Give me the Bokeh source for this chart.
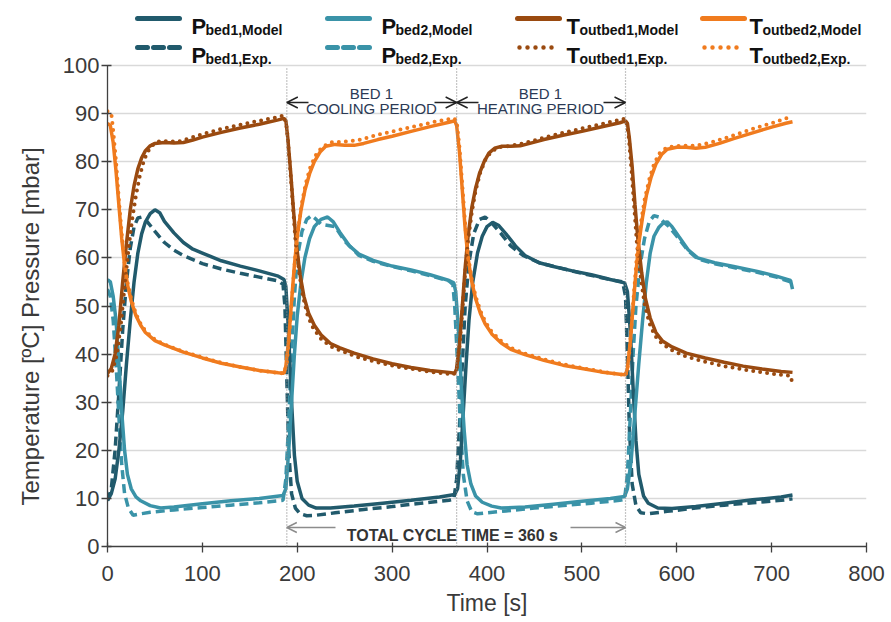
from bokeh.plotting import figure
from bokeh.models import Range1d, Label, Arrow, OpenHead, FixedTicker, Title
from bokeh.embed import file_html
from bokeh.resources import INLINE

# ---------------- data ----------------
pbed1_model_t = [0, 4, 8, 12, 16, 20, 24, 28, 32, 36, 40, 45, 50, 55, 60, 70, 80, 90, 100, 120, 140, 160, 180, 186,
                 188, 191, 194, 197, 200, 205, 212, 220, 235, 260, 290, 320, 350, 366,
                 369, 372, 375, 378, 381, 385, 390, 395, 400, 406, 412, 420, 430, 440, 455, 470, 490, 510, 530, 545,
                 548, 551, 554, 557, 560, 565, 570, 580, 595, 620, 650, 680, 710, 722]
pbed1_model_v = [9.6, 11, 14, 20, 28, 38, 47, 55, 61, 65, 67.5, 69.2, 70, 69.4, 67.6, 65.2, 63.2, 61.8, 61, 59.4, 58.3, 57.3, 56.2, 55.5,
                 54, 44, 30, 19, 13.5, 10, 8.6, 8, 8, 8.4, 9, 9.6, 10.3, 10.8,
                 12, 18, 28, 38, 47, 55, 61, 64.5, 66.5, 67.4, 66.8, 65, 62.5, 60.5, 59, 58.2, 57.3, 56.5, 55.5, 54.8,
                 53, 45, 33, 22, 15, 10.5, 9, 8, 7.9, 8.3, 9, 9.7, 10.3, 10.7]

pbed1_exp_t = [0, 4, 8, 12, 16, 20, 24, 28, 32, 36, 42, 50, 60, 70, 80, 100, 120, 140, 160, 180, 185,
               187, 189, 191, 194, 198, 203, 210, 220, 240, 270, 300, 330, 360, 365,
               368, 371, 374, 377, 381, 386, 392, 398, 404, 415, 425, 438, 455, 475, 500, 525, 543,
               546, 548, 550, 553, 557, 562, 570, 590, 620, 650, 680, 710, 722]
pbed1_exp_v = [9.5, 12, 20, 32, 45, 55, 62, 66.5, 68.3, 68.5, 67.5, 65.5, 63.2, 61.6, 60.5, 58.8, 57.7, 56.8, 56, 55.2, 54.5,
               50, 35, 20, 11, 8, 6.8, 6.4, 6.5, 7, 7.7, 8.3, 9, 9.6, 9.8,
               14, 25, 38, 50, 59, 65, 68, 68.5, 67.5, 65, 62.5, 60.5, 59, 58, 56.8, 55.7, 55,
               52, 40, 25, 13, 8.5, 7, 6.8, 7.3, 8, 8.6, 9.1, 9.6, 9.9]

pbed2_model_t = [0, 3, 6, 9, 12, 15, 18, 21, 25, 30, 35, 45, 56, 70, 100, 130, 160, 185,
                 188, 191, 194, 197, 200, 204, 208, 213, 218, 225, 232, 238, 245, 255, 265, 280, 300, 320, 340, 360, 365,
                 367, 370, 373, 376, 379, 383, 388, 395, 405, 415, 440, 470, 500, 530, 545,
                 548, 552, 556, 560, 564, 568, 572, 576, 581, 586, 590, 595, 602, 612, 622, 640, 660, 685, 705, 720, 722]
pbed2_model_v = [55.5, 55, 52, 47, 38, 28, 20, 15, 12, 10.3, 9.5, 8.5, 8, 8.2, 8.9, 9.5, 10, 10.6,
                 12, 20, 30, 40, 48, 55, 60, 64, 66.5, 68, 68.5, 67.5, 65.3, 62.5, 60.8, 59.5, 58.3, 57.5, 56.5, 55.3, 54.8,
                 53, 45, 33, 24, 17, 13, 10.5, 9.2, 8.4, 8, 8.2, 8.8, 9.4, 10, 10.4,
                 12, 18, 28, 38, 47, 55, 61, 64.5, 66.3, 67.3, 67.5, 66.5, 64.5, 61.7, 60, 59, 58.2, 57.2, 56.2, 55.3, 53.5]

pbed2_exp_t = [0, 3, 6, 9, 12, 15, 18, 22, 27, 35, 45, 70, 100, 130, 160, 185,
               188, 191, 194, 197, 200, 205, 210, 215, 220, 225, 240, 250, 265, 280, 300, 320, 340, 360, 364,
               366, 369, 372, 375, 379, 384, 390, 400, 420, 450, 480, 510, 540, 545,
               548, 551, 554, 557, 561, 566, 571, 576, 581, 586, 592, 600, 612, 622, 640, 660, 685, 705, 720]
pbed2_exp_v = [53.5, 52, 47, 38, 27, 17, 11, 8, 6.5, 6.8, 7.1, 7.6, 8.1, 8.6, 9.1, 9.6,
               14, 26, 40, 52, 60, 65.5, 68, 68.8, 68, 67, 66.5, 63.5, 60.5, 59.3, 58.2, 57.3, 56.3, 55.2, 54.5,
               50, 38, 25, 15, 9.5, 7.2, 6.8, 7, 7.4, 8, 8.5, 9, 9.6, 9.8,
               15, 27, 40, 50, 58, 64, 67.5, 68.8, 68.5, 67.5, 66.5, 64.5, 61.5, 59.8, 58.8, 58, 57, 56, 55]

toutbed1_model_t = [0, 4, 8, 12, 16, 20, 24, 28, 32, 36, 40, 45, 50, 60, 70, 80, 90, 100, 120, 140, 160, 180, 186,
                    188, 190, 193, 196, 199, 203, 207, 212, 218, 225, 235, 245, 260, 280, 300, 320, 340, 360, 366,
                    368, 371, 374, 377, 380, 384, 388, 392, 397, 402, 408, 415, 425, 435, 445, 460, 480, 500, 520, 540, 546,
                    548, 550, 553, 556, 559, 563, 567, 572, 578, 585, 595, 610, 630, 650, 670, 690, 710, 722]
toutbed1_model_v = [36, 37, 40, 46, 55, 63, 70, 75, 78.5, 80.8, 82.3, 83.3, 83.8, 84, 83.9, 84, 84.5, 85.1, 86.1, 87, 87.8, 88.7, 89,
                    88.5, 85, 78, 70, 63, 56.5, 52, 48.5, 46, 44, 42.2, 41.3, 40.2, 39, 38, 37.2, 36.6, 36.2, 36,
                    37, 42, 50, 58, 64.5, 70.5, 74.5, 77.5, 80, 81.8, 82.8, 83.2, 83.2, 83.3, 83.8, 84.6, 85.5, 86.3, 87.2, 88.1, 88.5,
                    88, 85, 79, 71, 64, 57, 51.5, 47.5, 44.5, 42.7, 41.5, 40.2, 39.2, 38.3, 37.5, 36.9, 36.4, 36.2]

toutbed1_exp_t = [0, 5, 10, 14, 18, 22, 26, 30, 34, 38, 42, 48, 55, 65, 75, 85, 100, 120, 140, 160, 180, 186,
                  189, 192, 195, 198, 202, 206, 211, 217, 225, 235, 250, 265, 285, 305, 325, 345, 365,
                  368, 371, 374, 377, 380, 384, 388, 393, 398, 404, 412, 425, 440, 460, 480, 500, 520, 540, 546,
                  549, 552, 555, 558, 562, 566, 571, 577, 585, 595, 610, 630, 650, 670, 690, 710, 720, 722]
toutbed1_exp_v = [35.5, 36.5, 40, 46, 54, 61.5, 68, 73, 77, 80, 82, 83.5, 84.3, 84.2, 84.2, 84.8, 85.7, 86.8, 87.7, 88.5, 89.3, 89.6,
                  87, 80, 72, 64, 57, 52, 48, 45.3, 43.2, 41.6, 40.4, 39.3, 38.3, 37.4, 36.8, 36.2, 35.8,
                  37, 41.5, 49, 57, 63.5, 69.5, 74, 77.8, 80.3, 82, 83, 83.3, 83.9, 85, 86, 86.9, 87.8, 88.7, 89,
                  86, 79, 71, 63, 56, 50.5, 46.5, 43.8, 42.1, 40.8, 39.5, 38.4, 37.5, 36.8, 36.2, 35.7, 35.5, 33.8]

toutbed2_model_t = [0, 3, 6, 9, 12, 15, 18, 21, 25, 30, 35, 40, 50, 60, 80, 100, 120, 140, 160, 180, 186,
                    188, 191, 194, 197, 200, 204, 208, 213, 218, 224, 230, 240, 250, 260, 270, 285, 300, 320, 340, 360, 366,
                    368, 371, 374, 377, 380, 384, 388, 393, 398, 405, 415, 425, 440, 460, 480, 500, 520, 540, 546,
                    548, 551, 554, 557, 560, 564, 568, 573, 578, 584, 590, 600, 610, 620, 630, 645, 660, 680, 700, 715, 722]
toutbed2_model_v = [88, 87.5, 84, 78, 71, 64, 58.5, 54.5, 51, 48, 46, 44.5, 42.8, 41.9, 40.4, 39.2, 38.1, 37.3, 36.6, 36.1, 36,
                    37.5, 43, 51, 58.5, 64.5, 70, 74, 77.5, 80, 82, 83.2, 83.6, 83.4, 83.4, 83.8, 84.6, 85.3, 86.3, 87.3, 88.2, 88.5,
                    87.5, 82, 74, 66, 60, 55, 51.5, 48.5, 46.3, 44.2, 42.3, 41, 39.9, 38.7, 37.7, 37, 36.3, 35.8, 35.7,
                    37, 42.5, 50, 57, 63, 68.5, 73, 76.8, 79.5, 81.5, 82.6, 83, 83, 82.8, 83, 83.8, 84.8, 86, 87.2, 88, 88.3]

toutbed2_exp_t = [0, 4, 6, 9, 12, 15, 18, 21, 25, 30, 35, 40, 50, 60, 80, 100, 120, 140, 160, 180, 186,
                  189, 192, 195, 198, 201, 205, 209, 214, 220, 226, 235, 250, 265, 285, 305, 325, 345, 365,
                  368, 371, 374, 377, 380, 384, 388, 393, 398, 405, 415, 425, 440, 460, 480, 500, 520, 540, 546,
                  549, 552, 555, 558, 562, 566, 571, 576, 582, 590, 605, 620, 640, 660, 680, 700, 715, 722]
toutbed2_exp_v = [90.5, 90, 86.5, 80, 72, 65, 59, 55, 51.5, 48.3, 46.3, 44.8, 43, 42, 40.5, 39.3, 38.2, 37.3, 36.6, 36.1, 36,
                  38, 45, 53, 60.5, 66, 71.5, 75.5, 79, 81.5, 83, 84, 84.2, 84.5, 85.6, 86.5, 87.4, 88.3, 89,
                  88.5, 83, 75, 67, 60.5, 55.5, 52, 49, 46.8, 44.6, 42.7, 41.3, 40.1, 38.9, 37.9, 37.1, 36.4, 35.8, 35.5,
                  38, 45, 53, 60.5, 67, 72, 76.3, 79.5, 81.8, 83, 83.3, 83.3, 84.2, 85.5, 86.8, 88, 89, 89.5]

switch_times = [189, 368, 546]
x_ticks = [0, 100, 200, 300, 400, 500, 600, 700, 800]
y_ticks = [0, 10, 20, 30, 40, 50, 60, 70, 80, 90, 100]

legend_main = ["P", "P", "T", "T", "P", "P", "T", "T"]
legend_sub = ["bed1,Model", "bed2,Model", "outbed1,Model", "outbed2,Model",
              "bed1,Exp.", "bed2,Exp.", "outbed1,Exp.", "outbed2,Exp."]

C_P1 = "#215a6c"
C_P2 = "#3a93a8"
C_T1 = "#9a4a10"
C_T2 = "#f07b1e"
FONT = "Liberation Sans"

# ---------------- figure ----------------
# axes box in page px: x 0..800 -> 107..866, y 0..100 -> 546..65; the frame is
# extended to the top of the canvas so that the legend rows are drawn inside it.
FL, FR, Y100, FB = 107, 866, 65, 546
W, H = 891, 622
PX_PER_Y = (FB - Y100) / 100.0
y_top = FB / PX_PER_Y
p = figure(width=W, height=H, x_range=Range1d(0, 800), y_range=Range1d(0, y_top),
           output_backend="svg", toolbar_location=None,
           min_border_left=FL, min_border_right=W - FR, min_border_top=0, min_border_bottom=H - FB)
p.outline_line_color = None
p.background_fill_color = "white"


def dx(px):
    return (px - FL) * 800.0 / (FR - FL)


def dy(py):
    return (FB - py) / PX_PER_Y


for ax in (p.xaxis[0], p.yaxis[0]):
    ax.axis_line_color = "#404040"
    ax.axis_line_width = 1.3
    ax.major_tick_line_color = "#404040"
    ax.major_tick_line_width = 1.3
    ax.major_tick_in = 4
    ax.major_tick_out = 6
    ax.minor_tick_line_color = None
    ax.major_label_text_font = FONT
    ax.major_label_text_font_size = "22px"
    ax.major_label_text_color = "#3a3a3a"
    ax.axis_label_text_font = FONT
    ax.axis_label_text_font_style = "normal"
    ax.axis_label_text_color = "#3a3a3a"
p.xaxis.axis_label_text_font_size = "23px"
p.xaxis.ticker = FixedTicker(ticks=x_ticks)
p.yaxis.ticker = FixedTicker(ticks=y_ticks)
p.yaxis.bounds = (0, 100)
p.xaxis.axis_label = "Time [s]"
p.xaxis.major_label_standoff = 13
p.yaxis.major_label_standoff = 2
p.xaxis.axis_label_standoff = 6
p.xgrid.grid_line_color = None
p.ygrid.grid_line_color = "#d9d9d9"
p.ygrid.grid_line_width = 1.3

# y-axis title, placed in the left panel and anchored at the bottom of the axis
p.add_layout(Title(text="Temperature [ºC] Pressure  [mbar]", align="left", offset=FB - 505,
                   vertical_align="top", standoff=28, text_font=FONT, text_font_size="24px",
                   text_font_style="normal", text_color="#3a3a3a"), "left")

# vertical dotted switch lines
for t in switch_times:
    p.add_layout(Arrow(end=None, x_start=t, y_start=dy(68), x_end=t, y_end=0,
                       line_color="#8c8c8c", line_width=1.2, line_dash="1 2"))

# series
LW = 3.5
p.line(pbed1_exp_t, pbed1_exp_v, color=C_P1, line_width=LW, line_dash="9 5")
p.line(pbed2_exp_t, pbed2_exp_v, color=C_P2, line_width=LW, line_dash="9 5")
p.line(pbed1_model_t, pbed1_model_v, color=C_P1, line_width=LW)
p.line(pbed2_model_t, pbed2_model_v, color=C_P2, line_width=LW)
p.line(toutbed1_model_t, toutbed1_model_v, color=C_T1, line_width=LW)
p.line(toutbed2_model_t, toutbed2_model_v, color=C_T2, line_width=LW)
p.line(toutbed1_exp_t, toutbed1_exp_v, color=C_T1, line_width=4, line_dash="0 7", line_cap="round")
p.line(toutbed2_exp_t, toutbed2_exp_v, color=C_T2, line_width=4, line_dash="0 7", line_cap="round")

# period annotations
TXT = "#2b3a55"
ya = dy(102)
for (a, b, c, d) in [(189, dx(308), dx(434), 368), (368, dx(478), dx(603), 546)]:
    p.add_layout(Arrow(start=None, end=OpenHead(size=11, line_color="#222222", line_width=1.4),
                       x_start=b, y_start=ya, x_end=a, y_end=ya, line_color="#222222", line_width=1.4))
    p.add_layout(Arrow(start=None, end=OpenHead(size=11, line_color="#222222", line_width=1.4),
                       x_start=c, y_start=ya, x_end=d, y_end=ya, line_color="#222222", line_width=1.4))
for xc, word in [(dx(371), "COOLING PERIOD"), (dx(540), "HEATING PERIOD")]:
    p.add_layout(Label(x=xc, y=dy(93), text="BED 1", text_align="center", text_baseline="middle",
                       text_font=FONT, text_font_size="15px", text_color=TXT))
    p.add_layout(Label(x=xc, y=dy(108), text=word, text_align="center", text_baseline="middle",
                       text_font=FONT, text_font_size="15px", text_color=TXT))

yb = dy(527)
p.add_layout(Arrow(end=OpenHead(size=10, line_color="#8c8c8c", line_width=1.4),
                   x_start=dx(335), y_start=yb, x_end=switch_times[0], y_end=yb, line_color="#8c8c8c", line_width=1.4))
p.add_layout(Arrow(end=OpenHead(size=10, line_color="#8c8c8c", line_width=1.4),
                   x_start=dx(570), y_start=yb, x_end=switch_times[2], y_end=yb, line_color="#8c8c8c", line_width=1.4))
p.add_layout(Label(x=dx(452), y=dy(535), text="TOTAL CYCLE TIME = 360 s", text_align="center",
                   text_baseline="middle", text_font=FONT, text_font_size="16px", text_font_style="bold",
                   text_color="#333333"))

# legend (manual, for subscripts), positioned in page px
col_x = [135, 325, 515, 700]
text_dx = [56, 56, 51, 49]
row_y = [18, 47]
colors = [C_P1, C_P2, C_T1, C_T2]
for i in range(8):
    c, r = i % 4, i // 4
    x0, y0 = col_x[c], row_y[r]
    if r == 0:
        kw = dict(x_start=dx(x0 + 2), x_end=dx(x0 + 44), line_width=5, line_cap="round")
    elif c < 2:
        kw = dict(x_start=dx(x0 + 2), x_end=dx(x0 + 44), line_width=5, line_dash="10 6", line_cap="round")
    else:
        kw = dict(x_start=dx(x0 + 4), x_end=dx(x0 + 40), line_width=4.5, line_dash="0 8", line_cap="round")
    p.add_layout(Arrow(end=None, y_start=dy(y0), y_end=dy(y0), line_color=colors[c], **kw))
    p.add_layout(Label(x=dx(x0 + text_dx[c]), y=dy(y0 + 8), text=legend_main[i], text_align="left",
                       text_baseline="alphabetic", text_font=FONT, text_font_size="22px",
                       text_font_style="bold", text_color="#111111"))
    off = 14 if legend_main[i] == "P" else 13
    p.add_layout(Label(x=dx(x0 + text_dx[c] + off), y=dy(y0 + 11), text=legend_sub[i], text_align="left",
                       text_baseline="alphabetic", text_font=FONT, text_font_size="14px",
                       text_font_style="bold", text_color="#111111"))

open("out.html", "w").write(file_html(p, INLINE))
